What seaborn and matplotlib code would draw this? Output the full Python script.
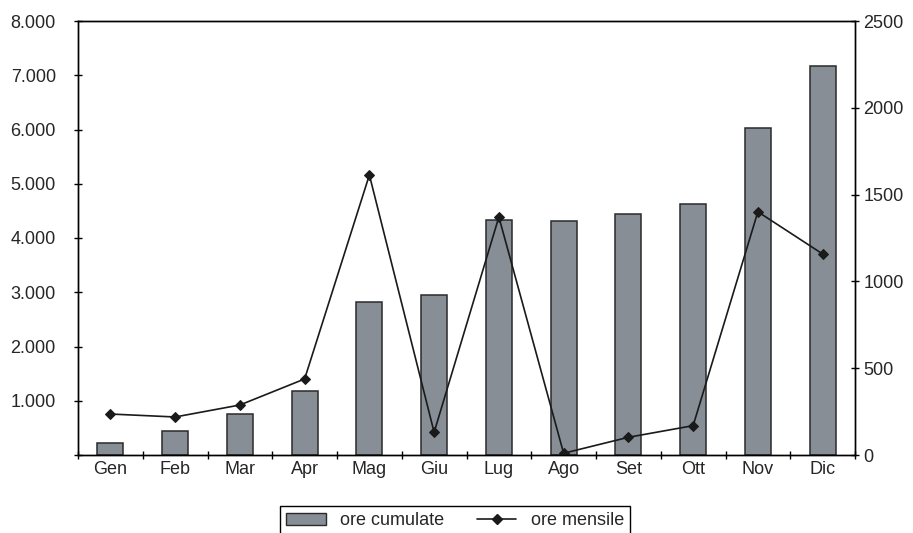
import numpy as np
import pandas as pd
import matplotlib
matplotlib.use("Agg")
import matplotlib.pyplot as plt
import seaborn as sns
from matplotlib.patches import Patch
from matplotlib.lines import Line2D
from matplotlib.ticker import FixedLocator

months = ["Gen", "Feb", "Mar", "Apr", "Mag", "Giu", "Lug", "Ago", "Set", "Ott", "Nov", "Dic"]
ore_cumulate = [220, 445, 756, 1180, 2815, 2945, 4330, 4315, 4440, 4625, 6020, 7175]
ore_mensili = [236, 219, 288, 438, 1613, 131, 1371, 10, 102, 169, 1401, 1158]
left_ticks = [1000, 2000, 3000, 4000, 5000, 6000, 7000, 8000]
left_labels = ["1.000", "2.000", "3.000", "4.000", "5.000", "6.000", "7.000", "8.000"]
right_ticks = [0, 500, 1000, 1500, 2000, 2500]

sns.set_style("white")
plt.rcParams['font.family'] = ['Liberation Sans', 'DejaVu Sans']
FS = 13

fig = plt.figure(figsize=(9.13, 5.33), dpi=100)
ax = fig.add_axes([78/913, 1-455/533, (855-78)/913, (455-21)/533])

df = pd.DataFrame({"mese": months, "cum": ore_cumulate})
sns.barplot(data=df, x="mese", y="cum", ax=ax, color="#878e96", width=0.4,
            edgecolor="#2a2a2a", linewidth=1.1, saturation=1)
ax.set_xlim(-0.5, 11.5)
ax.set_ylim(0, 8000)
ax.set_xlabel("")
ax.set_ylabel("")
ax.set_yticks(left_ticks)
ax.set_yticklabels(left_labels, fontsize=FS)
ax.yaxis.set_minor_locator(FixedLocator([0]))
ax.tick_params(axis="y", which="both", direction="inout", length=6, width=1, color="black", pad=13, left=True)
ax.set_xticks(range(12))
ax.set_xticklabels(months, fontsize=FS)
ax.tick_params(axis="x", which="major", length=0, pad=4)
ax.xaxis.set_minor_locator(FixedLocator(np.arange(-0.5, 12, 1.0)))
ax.tick_params(axis="x", which="minor", direction="inout", length=6, width=1, color="black", bottom=True)

ax2 = ax.twinx()
sns.lineplot(x=np.arange(12), y=ore_mensili, ax=ax2, color="#1a1a1a", linewidth=1.2,
             marker="D", markersize=5.5, markeredgecolor="#1a1a1a", markerfacecolor="#1a1a1a")
ax2.set_ylim(0, 2500)
ax2.set_yticks(right_ticks)
ax2.set_yticklabels([str(v) for v in right_ticks], fontsize=FS)
ax2.tick_params(axis="y", direction="inout", length=6, width=1, color="black", right=True, pad=3)
ax2.set_xlim(-0.5, 11.5)

for a in (ax, ax2):
    for s in a.spines.values():
        s.set_visible(True)
        s.set_color("black")
        s.set_linewidth(1.0)

handles = [Patch(facecolor="#878e96", edgecolor="#2a2a2a", linewidth=1.0),
           Line2D([0], [0], color="#1a1a1a", linewidth=1.2, marker="D", markersize=5)]
leg = fig.legend(handles, ["ore cumulate", "ore mensile"], loc="upper center",
                 bbox_to_anchor=(455/913, 1-506/533), ncol=2, fontsize=FS,
                 frameon=True, fancybox=False, edgecolor="black", borderpad=0.35,
                 handlelength=2.2, handleheight=0.6, columnspacing=1.8, framealpha=1,
                 borderaxespad=0)
leg.get_frame().set_linewidth(1.0)

fig.savefig("out.png", dpi=100)
